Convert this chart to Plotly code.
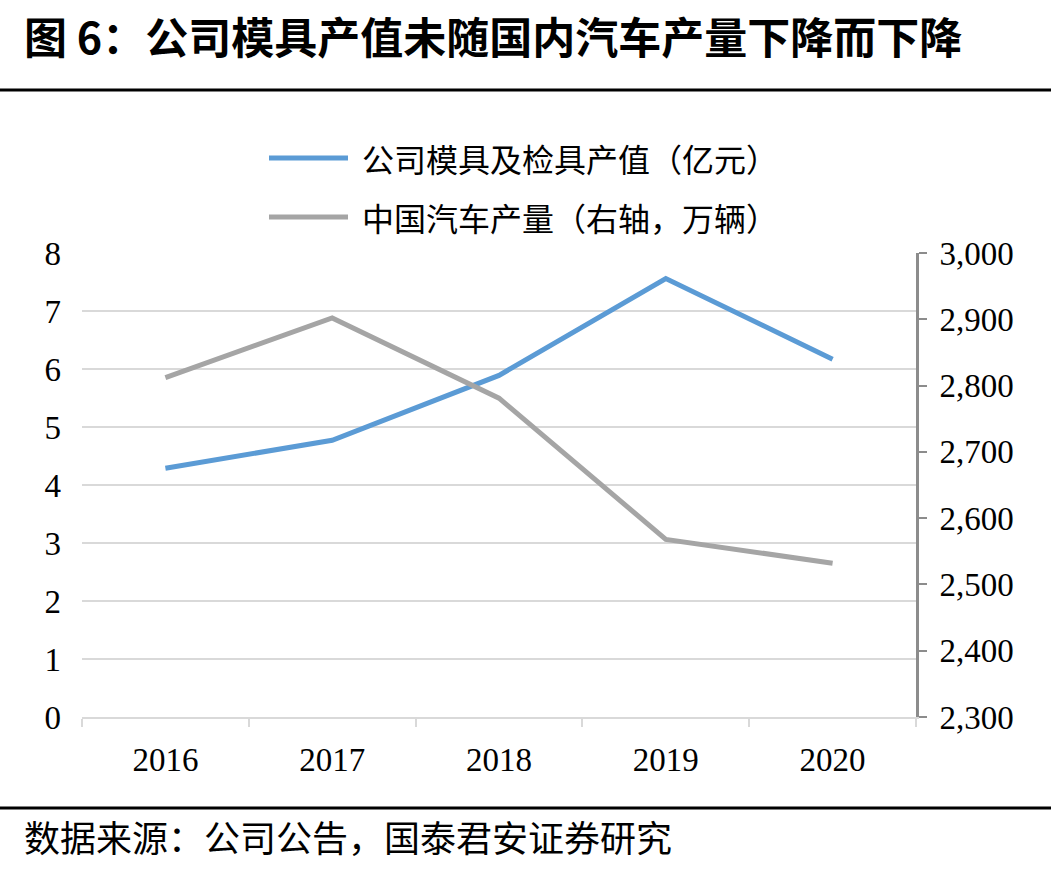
import plotly.graph_objects as go

years = ["2016", "2017", "2018", "2019", "2020"]
mold_value = [4.29, 4.77, 5.89, 7.56, 6.17]          # 亿元 (left axis)
auto_output = [2812, 2902, 2781, 2568, 2532]         # 万辆 (right axis)

left_ticks = [0, 1, 2, 3, 4, 5, 6, 7, 8]
right_ticks = [2300, 2400, 2500, 2600, 2700, 2800, 2900, 3000]

W, H = 1051, 872
L, R, T, B = 82, 916, 253, 717

def px(x):
    return (x - L) / (R - L)

def py(y):
    return (B - y) / (B - T)

BLUE = "#5B9BD5"
GREY = "#A5A5A5"
SERIF = "Liberation Serif, Noto Sans CJK SC, serif"
CJK = "Noto Sans CJK SC, Liberation Serif, serif"

fig = go.Figure()
fig.add_trace(go.Scatter(x=years, y=mold_value, mode="lines", name="公司模具及检具产值（亿元）",
                         line=dict(color=BLUE, width=5), yaxis="y", showlegend=False))
fig.add_trace(go.Scatter(x=years, y=auto_output, mode="lines", name="中国汽车产量（右轴，万辆）",
                         line=dict(color=GREY, width=5), yaxis="y2", showlegend=False))

fig.update_layout(
    width=W, height=H,
    margin=dict(l=L, r=W - R, t=T, b=H - B, autoexpand=False),
    paper_bgcolor="white", plot_bgcolor="white",
    xaxis=dict(type="category", range=[-0.5, 4.5], showgrid=False,
               showline=True, linecolor="#D9D9D9", linewidth=2,
               ticks="outside", tickson="boundaries", ticklen=8, tickcolor="#D9D9D9", tickwidth=2,
               tickfont=dict(family=SERIF, size=33, color="#000"), ticklabelstandoff=12),
    yaxis=dict(range=[0, 8], tickvals=left_ticks, showgrid=True, gridcolor="#D9D9D9", gridwidth=2,
               showline=False, zeroline=False, ticks="",
               tickfont=dict(family=SERIF, size=33, color="#000"), ticklabelstandoff=20),
    yaxis2=dict(range=[2300, 3000], tickvals=right_ticks, tickformat=",", overlaying="y", side="right",
                showgrid=False, zeroline=False, showline=True, linecolor="#8C8C8C", linewidth=3,
                ticks="outside", ticklen=8, tickcolor="#8C8C8C", tickwidth=2,
                tickfont=dict(family=SERIF, size=33, color="#000"), ticklabelstandoff=6),
    showlegend=False,
)

shapes = []
# rules
shapes.append(dict(type="line", xref="paper", yref="paper", x0=px(0), x1=px(W), y0=py(90), y1=py(90),
                   line=dict(color="#000", width=3)))
shapes.append(dict(type="line", xref="paper", yref="paper", x0=px(0), x1=px(W), y0=py(808), y1=py(808),
                   line=dict(color="#000", width=3)))
# legend samples
shapes.append(dict(type="line", xref="paper", yref="paper", x0=px(269), x1=px(348), y0=py(158), y1=py(158),
                   line=dict(color=BLUE, width=5)))
shapes.append(dict(type="line", xref="paper", yref="paper", x0=px(269), x1=px(348), y0=py(217), y1=py(217),
                   line=dict(color=GREY, width=5)))
fig.update_layout(shapes=shapes)

ann = []
ann.append(dict(text="<b>图 6：公司模具产值未随国内汽车产量下降而下降</b>", xref="paper", yref="paper",
                x=px(22), y=py(35), xanchor="left", yanchor="middle", showarrow=False,
                font=dict(family=CJK, size=43, color="#000")))
ann.append(dict(text="公司模具及检具产值（亿元）", xref="paper", yref="paper",
                x=px(360), y=py(158), xanchor="left", yanchor="middle", showarrow=False,
                font=dict(family=CJK, size=32, color="#000")))
ann.append(dict(text="中国汽车产量（右轴，万辆）", xref="paper", yref="paper",
                x=px(360), y=py(217), xanchor="left", yanchor="middle", showarrow=False,
                font=dict(family=CJK, size=32, color="#000")))
ann.append(dict(text="数据来源：公司公告，国泰君安证券研究", xref="paper", yref="paper",
                x=px(22), y=py(836), xanchor="left", yanchor="middle", showarrow=False,
                font=dict(family=CJK, size=36, color="#000")))
fig.update_layout(annotations=ann)

fig.write_html("out.html")
